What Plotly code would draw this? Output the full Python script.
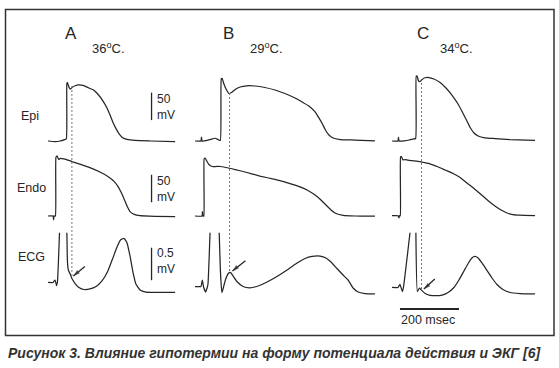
import plotly.graph_objects as go

# ------------------------------------------------------------------ data
# time in ms from the start of each sweep, membrane potential in mV,
# ECG in mV (relative to baseline)

# Panel A, 36 C
A_EPI_T = [0, 24, 41, 54, 62, 64, 66, 71, 76, 83, 92, 103, 119, 136, 153, 170, 186, 200, 212, 220, 231, 241, 253, 268, 295, 346, 431]
A_EPI_V = [-85, -86, -85, -83, -81, 20, 21, 13, 9.5, 13, 15.5, 17, 16, 12, 8, -0.5, -12, -25, -40, -51, -63, -72, -79, -82, -84, -85, -86]
A_ENDO_T = [0, 17, 19, 20, 25, 27, 31, 36, 41, 47, 61, 81, 108, 142, 176, 203, 224, 237, 247, 258, 268, 278, 292, 312, 363, 431]
A_ENDO_V = [-85, -85, -92, -85, -85, 22, 24, 18, 19.5, 19.5, 18, 14, 9.5, 3, -5, -13, -22, -31, -41, -54, -67, -77, -82, -84.5, -85.5, -86]
A_ECG_T = [0, 17, 24, 29, 32, 39, None, 64, 66, 69, 75, 81, 92, 105, 122, 142, 163, 183, 203, 220, 234, 247, 258, 268, 278, 288, 298, 312, 332, 380, 431]
A_ECG_V = [0.085, 0.085, 0.123, 0.038, 0.092, 0.85, None, 0.85, 0.40, 0.277, 0.216, 0.146, 0.069, 0.008, -0.023, -0.015, 0.023, 0.108, 0.262, 0.462, 0.631, 0.747, 0.762, 0.693, 0.493, 0.246, 0.062, -0.031, -0.062, -0.069, -0.069]

# Panel B, 29 C
B_EPI_T = [0, 20, 22, 24, 41, 54, 68, 80, 86, 89, 92, 98, 107, 115, 124, 136, 153, 176, 203, 237, 271, 305, 339, 366, 390, 407, 420, 432, 442, 454, 468, 492, 542, 610]
B_EPI_V = [-85, -85, -78, -85, -84, -82, -80, -83, -84, 28, 29, 18.6, 7.7, 1.4, 3.2, 8.6, 13.2, 15.4, 15, 12.3, 7.7, 1.4, -6.8, -15, -23, -32, -43, -54, -65, -74, -79.5, -82.3, -83.2, -84.6]
B_ENDO_T = [0, 24, 25, 27, 30, 31, 34, 41, 47, 58, 71, 85, 105, 136, 170, 220, 271, 322, 356, 383, 407, 427, 444, 461, 478, 502, 542, 610]
B_ENDO_V = [-85, -85, -77, -85, -85, 19.5, 20.4, 14, 8.6, 5, 5, 5, 3.2, -0.5, -5, -12.3, -18.6, -26, -32, -38.6, -47, -56, -65, -74, -80.5, -84, -85, -85]
B_ECG_T = [0, 20, 25, 29, 36, 41, 44, 51, None, 82, 86, 91, 95, 103, 113, 120, 129, 142, 163, 186, 214, 241, 275, 312, 346, 373, 397, 424, 444, 461, 481, 502, 519, 536, 553, 576, 610]
B_ECG_V = [0.023, 0.023, 0.123, 0.015, -0.062, 0, 0.062, 0.85, None, 0.85, 0.277, -0.069, -0.015, 0.123, 0.223, 0.239, 0.185, 0.1, 0.023, 0.003, 0.031, 0.085, 0.169, 0.277, 0.385, 0.454, 0.485, 0.49, 0.462, 0.4, 0.3, 0.2, 0.123, 0, -0.062, -0.085, -0.092]

# Panel C, 34 C
C_EPI_T = [0, 20, 22, 24, 41, 58, 71, 80, 82, 85, 90, 95, 102, 112, 125, 142, 163, 183, 203, 224, 241, 254, 266, 278, 292, 315, 349, 400, 485]
C_EPI_V = [-85, -85, -78.6, -85, -84.6, -83.2, -81.4, -80.5, 33, 33, 24, 23, 27, 30, 30.4, 27.7, 21.4, 11.4, -1.4, -17.7, -35, -48.6, -61.4, -70.5, -75.9, -79.2, -80.5, -82.3, -83.7]
C_ENDO_T = [0, 20, 24, 25, 28, 29, 32, 37, 44, 54, 68, 88, 108, 129, 153, 180, 207, 231, 254, 278, 302, 325, 349, 370, 390, 410, 434, 485]
C_ENDO_V = [-84.5, -84.5, -88.6, -84.5, -84.5, 22.3, 23.2, 16.8, 17.7, 16.4, 15.5, 14.4, 12.3, 9.9, 5, -1.4, -7.7, -15, -25, -35, -45.9, -56.8, -66.8, -74.1, -79.5, -82.6, -83.6, -84.5]
C_ECG_T = [0, 20, 27, 35, 39, 61, None, 81, 86, 93, 98, 112, 129, 149, 170, 190, 210, 227, 244, 259, 271, 281, 292, 305, 322, 339, 356, 376, 400, 434, 485]
C_ECG_V = [0.008, 0.008, 0.054, -0.054, 0.015, 0.85, None, 0.85, -0.054, 0, -0.023, -0.085, -0.112, -0.119, -0.111, -0.069, 0.008, 0.123, 0.262, 0.385, 0.462, 0.485, 0.462, 0.385, 0.27, 0.154, 0.054, -0.023, -0.069, -0.085, -0.092]

PANELS = ["A", "B", "C"]
TEMPS = ["36", "29", "34"]
ROW_LABELS = ["Epi", "Endo", "ECG"]
NOTCH_T = [81, 117, 100]            # time of the dashed marker line, ms
ARROW_HEAD_T = [86, 127, 108]       # ECG point indicated by the arrow, ms
ARROW_HEAD_V = [0.185, 0.262, -0.015]
ARROW_TAIL_T = [125, 171, 145]
ARROW_TAIL_V = [0.33, 0.42, 0.14]
AP_BAR_MV = [-47, 3]                # 50 mV calibration (Epi row)
ENDO_BAR_MV = [-60, -10]            # 50 mV calibration (Endo row)
ECG_BAR_MV = [0.12, 0.62]           # 0.5 mV calibration
BAR_T = 351                         # ms, panel-A time of calibration bars
TIME_BAR_T = [27, 227]              # 200 ms bar (panel C time)
TIME_BAR_V = -0.323
CAL_TEXT = ["50<br>mV", "50<br>mV", "0.5<br>mV"]
CAPTION = "Рисунок 3. Влияние гипотермии на форму потенциала действия и ЭКГ [6]"

# ------------------------------------------------------------------ layout geometry
W, H = 559, 368
MS_PER_PX = 200 / 59
MV_PER_PX_AP = 50 / 27.5
MV_PER_PX_ECG = 0.5 / 32.5
REST = -85
PANEL_X0 = [48, 195, 392]       # px of sweep start
EPI_BASE, ENDO_BASE, ECG_BASE = 141, 216, 288   # px of baselines


def px(x):
    return x / W


def py(y):
    return 1 - y / H


INK = "#262626"
FONT = "Liberation Sans, Arial, sans-serif"

fig = go.Figure()
data = {
    "A": [(A_EPI_T, A_EPI_V), (A_ENDO_T, A_ENDO_V), (A_ECG_T, A_ECG_V)],
    "B": [(B_EPI_T, B_EPI_V), (B_ENDO_T, B_ENDO_V), (B_ECG_T, B_ECG_V)],
    "C": [(C_EPI_T, C_EPI_V), (C_ENDO_T, C_ENDO_V), (C_ECG_T, C_ECG_V)],
}
xnames = ["x", "x2", "x3"]
ynames = ["y", "y2", "y3"]
for i, p in enumerate(PANELS):
    for r in range(3):
        t, v = data[p][r]
        fig.add_trace(go.Scatter(x=t, y=v, mode="lines", xaxis=xnames[i], yaxis=ynames[r],
                                 line=dict(color=INK, width=1.25, shape="spline", smoothing=0.4),
                                 hoverinfo="skip", showlegend=False, connectgaps=False))

# calibration bars
for r, bar in enumerate([AP_BAR_MV, ENDO_BAR_MV, ECG_BAR_MV]):
    fig.add_trace(go.Scatter(x=[BAR_T, BAR_T], y=bar, mode="lines", xaxis="x", yaxis=ynames[r],
                             line=dict(color=INK, width=1.3), showlegend=False, hoverinfo="skip"))
fig.add_trace(go.Scatter(x=TIME_BAR_T, y=[TIME_BAR_V, TIME_BAR_V], mode="lines", xaxis="x3", yaxis="y3",
                         line=dict(color=INK, width=2), showlegend=False, hoverinfo="skip"))

# arrows (shaft + head) pointing at the ECG notch
for i in range(3):
    fig.add_trace(go.Scatter(x=[ARROW_TAIL_T[i], ARROW_HEAD_T[i]], y=[ARROW_TAIL_V[i], ARROW_HEAD_V[i]],
                             mode="lines+markers", xaxis=xnames[i], yaxis="y3",
                             line=dict(color=INK, width=1.3),
                             marker=dict(symbol=["circle", "arrow"], size=[0, 7], angle=230,
                                         color=INK, line=dict(width=0)),
                             showlegend=False, hoverinfo="skip"))

layout = dict(width=W, height=H, margin=dict(l=0, r=0, t=0, b=0), autosize=False,
              paper_bgcolor="white", plot_bgcolor="white", showlegend=False)
for i in range(3):
    key = "xaxis" if i == 0 else f"xaxis{i+1}"
    ax = dict(range=[-PANEL_X0[i] * MS_PER_PX, (W - PANEL_X0[i]) * MS_PER_PX], domain=[0, 1],
              visible=False, fixedrange=True)
    if i:
        ax["overlaying"] = "x"
    layout[key] = ax
yr = [
    [REST - (H - EPI_BASE) * MV_PER_PX_AP, REST + EPI_BASE * MV_PER_PX_AP],
    [REST - (H - ENDO_BASE) * MV_PER_PX_AP, REST + ENDO_BASE * MV_PER_PX_AP],
    [-(H - ECG_BASE) * MV_PER_PX_ECG, ECG_BASE * MV_PER_PX_ECG],
]
for r in range(3):
    key = "yaxis" if r == 0 else f"yaxis{r+1}"
    ax = dict(range=yr[r], domain=[0, 1], visible=False, fixedrange=True)
    if r:
        ax["overlaying"] = "y"
    layout[key] = ax
fig.update_layout(**layout)

shapes = []
# frame
shapes.append(dict(type="rect", xref="paper", yref="paper", x0=px(5.5), x1=px(554), y0=py(335.5), y1=py(9.5),
                   line=dict(color="#333", width=1.5)))
# dashed markers
dash_top = [86, 93, 81]
dash_bot = [276, 271, 289]
for i in range(3):
    shapes.append(dict(type="line", xref=xnames[i], yref="paper", x0=NOTCH_T[i], x1=NOTCH_T[i],
                       y0=py(dash_bot[i]), y1=py(dash_top[i]),
                       line=dict(color="#777", width=1, dash="2px,2px")))
fig.update_layout(shapes=shapes)


def label(x, y, text, size, xanchor="center", color=INK, align="center"):
    return dict(x=px(x), y=py(y), xref="paper", yref="paper", text=text, showarrow=False,
                xanchor=xanchor, yanchor="middle", align=align,
                font=dict(family=FONT, size=size, color=color))


ann = []
title_x = [71, 228, 423]
temp_x = [108, 266, 456]
for i in range(3):
    ann.append(label(title_x[i], 33, PANELS[i], 17))
    ann.append(label(temp_x[i], 48, TEMPS[i] + "<sup>o</sup>C.", 13))
row_y = [116, 188, 257]
row_x = [30, 31, 31]
for r in range(3):
    ann.append(label(row_x[r], row_y[r], ROW_LABELS[r], 12.5))
cal_y = [107, 189, 261]
for r in range(3):
    ann.append(label(154.5, cal_y[r], CAL_TEXT[r], 12, xanchor="left", align="left"))
ann.append(label(427.5, 320, "200 msec", 12.5))
ann.append(label(6, 353, "<b><i>" + CAPTION + "</i></b>", 14, xanchor="left", color="#333", align="left"))
fig.update_layout(annotations=ann)

fig.write_html("out.html", config={"displayModeBar": False, "staticPlot": True},
               post_script="document.body.style.margin='0';document.body.style.overflow='hidden';")
